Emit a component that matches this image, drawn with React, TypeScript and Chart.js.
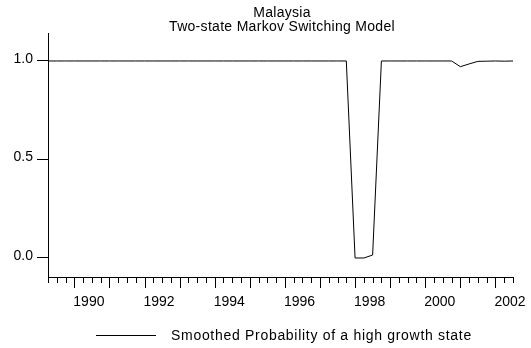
import React, { useEffect, useRef } from "react";
import { Chart, registerables } from "chart.js";

Chart.register(...registerables);

// ---- Data ----
const titleLines = ["Malaysia", "Two-state Markov Switching Model"];
const seriesLabel = "Smoothed Probability of a high growth state";
const startYear = 1989;
const startQuarter = 2;
// Quarterly smoothed probabilities, 1989Q2 .. 2002Q3
const smoothedProb = [
  // 1989 Q2-Q4
  1.0, 1.0, 1.0,
  // 1990
  1.0, 1.0, 1.0, 1.0,
  // 1991
  1.0, 1.0, 1.0, 1.0,
  // 1992
  1.0, 1.0, 1.0, 1.0,
  // 1993
  1.0, 1.0, 1.0, 1.0,
  // 1994
  1.0, 1.0, 1.0, 1.0,
  // 1995
  1.0, 1.0, 1.0, 1.0,
  // 1996
  1.0, 1.0, 1.0, 1.0,
  // 1997
  1.0, 1.0, 1.0, 1.0,
  // 1998
  0.0, 0.0, 0.015, 1.0,
  // 1999
  1.0, 1.0, 1.0, 1.0,
  // 2000
  1.0, 1.0, 1.0, 1.0,
  // 2001
  0.971, 0.985, 0.998, 0.999,
  // 2002 Q1-Q3
  1.0, 0.999, 1.0,
];
const xLabelYears = [1990, 1992, 1994, 1996, 1998, 2000, 2002];
const yTickValues = [0, 0.5, 1.0];
const xMin = 1989.25;
const xMax = 2002.5;
const yMin = -0.0965;
const yMax = 1.142;

const FONT = '"Liberation Sans", Arial, Helvetica, sans-serif';

const points = smoothedProb.map((v, i) => {
  const q = startQuarter - 1 + i;
  return { x: startYear + q / 4, y: v };
});

const decorPlugin = {
  id: "decor",
  afterDraw(chart: any) {
    const { ctx, chartArea, scales } = chart;
    const xs = scales.x;
    ctx.save();
    ctx.strokeStyle = "#000";
    ctx.lineWidth = 1;
    const bottom = Math.round(chartArea.bottom);
    ctx.beginPath();
    const n = Math.round((xMax - xMin) * 4);
    for (let i = 0; i <= n; i++) {
      const v = xMin + i * 0.25;
      const px = Math.round(xs.getPixelForValue(v)) + 0.5;
      const isYear = Math.abs(v - Math.round(v)) < 1e-6;
      const len = isYear ? 11 : 6;
      ctx.moveTo(px, bottom);
      ctx.lineTo(px, bottom + len);
    }
    ctx.stroke();

    // Title
    ctx.fillStyle = "#000";
    ctx.font = `14px ${FONT}`;
    ctx.textAlign = "center";
    ctx.textBaseline = "alphabetic";
    (ctx as any).letterSpacing = "0.3px";
    const cx = (chartArea.left + chartArea.right) / 2 + 1.5;
    titleLines.forEach((t, i) => ctx.fillText(t, cx, 17 + i * 14));

    // Legend
    (ctx as any).letterSpacing = "0.7px";
    ctx.textAlign = "left";
    ctx.textBaseline = "middle";
    const label = chart.data.datasets[0].label as string;
    const tw = ctx.measureText(label).width;
    const lineLen = 60;
    const gap = 15;
    const total = lineLen + gap + tw;
    const lx = Math.round(cx + 2 - total / 2);
    const ly = chart.height - 13;
    ctx.beginPath();
    ctx.moveTo(lx, ly + 0.5);
    ctx.lineTo(lx + lineLen, ly + 0.5);
    ctx.strokeStyle = "#000";
    ctx.stroke();
    ctx.fillText(label, lx + lineLen + gap, ly + 1);
    ctx.restore();
  },
};

export default function App() {
  const canvasRef = useRef<HTMLCanvasElement | null>(null);

  useEffect(() => {
    document.body.style.margin = "0";
    const canvas = canvasRef.current;
    if (!canvas) return;
    const chart = new Chart(canvas, {
      type: "line",
      data: {
        datasets: [
          {
            label: seriesLabel,
            data: points,
            borderColor: "#000",
            borderWidth: 1,
            pointRadius: 0,
            tension: 0,
            fill: false,
          },
        ],
      },
      options: {
        animation: false,
        responsive: false,
        devicePixelRatio: 1,
        events: [],
        layout: { padding: { top: 33, right: 18, bottom: 31, left: 0 } },
        plugins: {
          legend: { display: false },
          title: { display: false },
          tooltip: { enabled: false },
        },
        scales: {
          x: {
            type: "linear",
            min: xMin,
            max: xMax,
            afterBuildTicks: (scale: any) => {
              scale.ticks = xLabelYears.map((v) => ({ value: v }));
            },
            afterFit: (scale: any) => {
              scale.height = 40;
              scale.paddingLeft = 0;
              scale.paddingRight = 0;
            },
            grid: { display: false, drawTicks: false },
            border: { display: true, color: "#000", width: 1 },
            ticks: {
              align: "start",
              padding: 17,
              labelOffset: -1,
              maxRotation: 0,
              autoSkip: false,
              color: "#000",
              font: { family: FONT, size: 14 },
              callback: (v: any) => String(v),
            },
          },
          y: {
            type: "linear",
            min: yMin,
            max: yMax,
            afterBuildTicks: (scale: any) => {
              scale.ticks = yTickValues.map((v) => ({ value: v }));
            },
            afterFit: (scale: any) => {
              scale.width = 48;
              scale.paddingTop = 0;
              scale.paddingBottom = 0;
            },
            grid: {
              display: true,
              drawOnChartArea: false,
              drawTicks: true,
              tickLength: 11,
              color: "#000",
              lineWidth: 1,
            },
            border: { display: true, color: "#000", width: 1 },
            ticks: {
              padding: 4,
              labelOffset: -2,
              color: "#000",
              font: { family: FONT, size: 14 },
              callback: (v: any) => Number(v).toFixed(1),
            },
          },
        },
      },
      plugins: [decorPlugin],
    });
    return () => chart.destroy();
  }, []);

  return (
    <div style={{ width: 531, height: 348, background: "#fff" }}>
      <canvas ref={canvasRef} width={531} height={348} style={{ display: "block" }} />
    </div>
  );
}
